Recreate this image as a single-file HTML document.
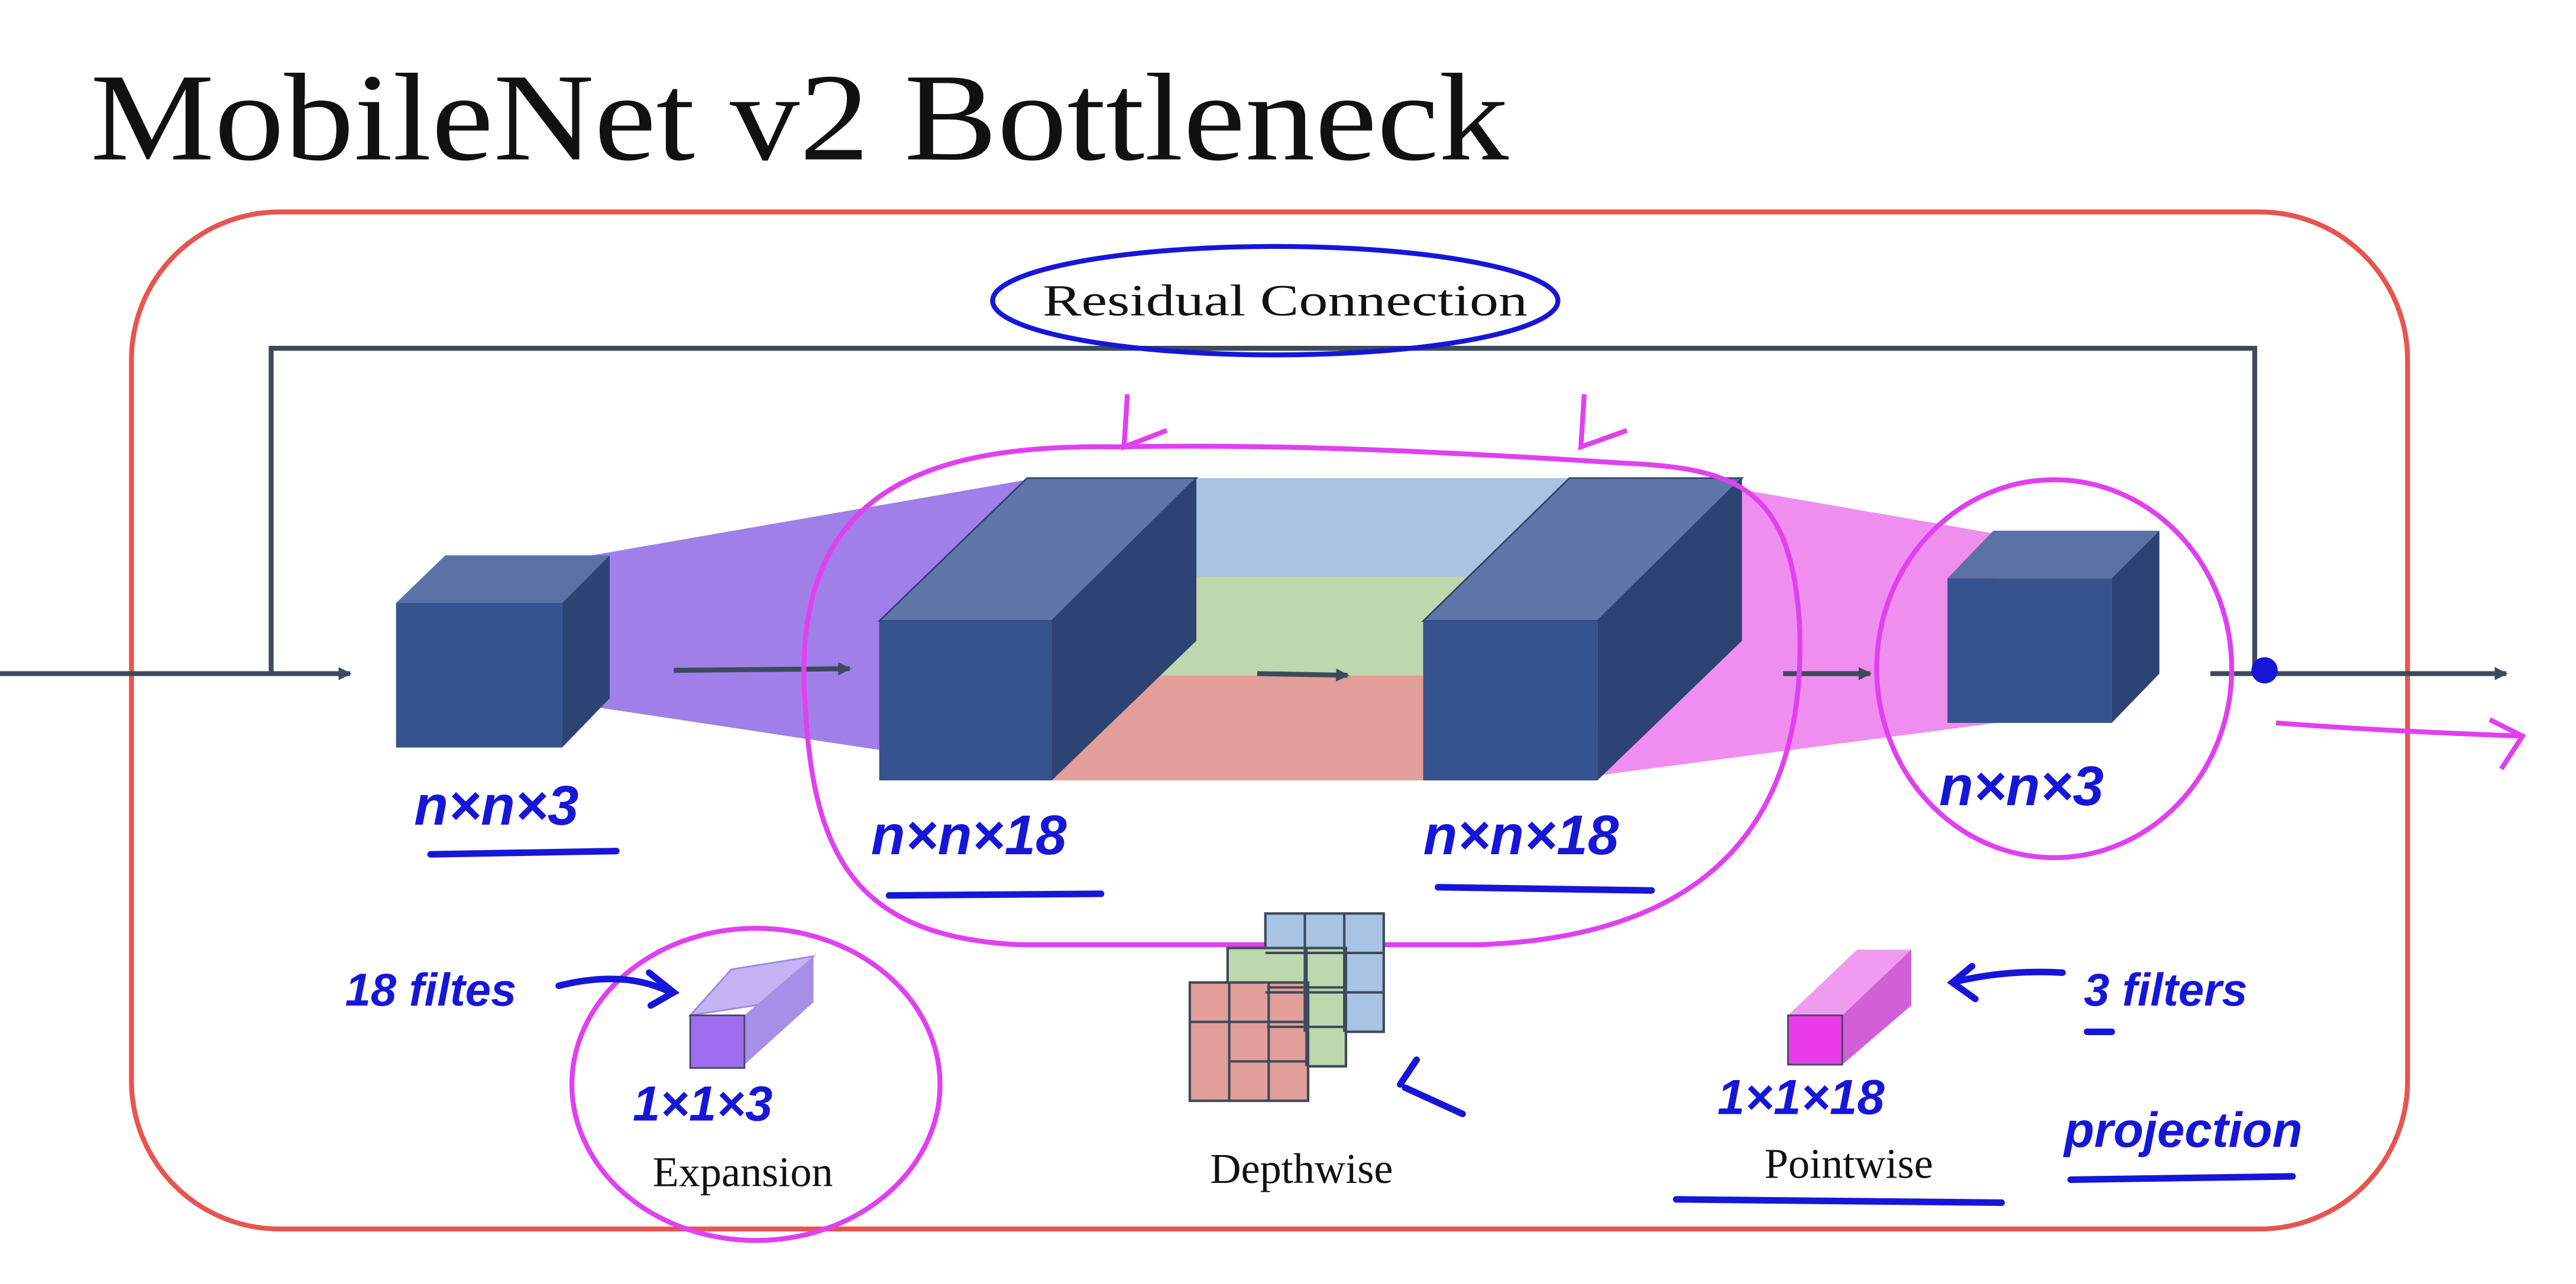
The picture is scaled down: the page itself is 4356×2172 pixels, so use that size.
<!DOCTYPE html>
<html><head><meta charset="utf-8"><style>
html,body{margin:0;padding:0;background:#fff;width:4356px;height:2172px;overflow:hidden}
svg{display:block}
.hw{font-family:"Liberation Sans",sans-serif;fill:#1616d8;font-style:italic}
.sf{font-family:"Liberation Serif",serif;fill:#111}
</style></head><body>
<svg width="4356" height="2172" viewBox="0 0 1567.5 781.5" preserveAspectRatio="none" xmlns="http://www.w3.org/2000/svg">
<defs><marker id="ar" markerWidth="8" markerHeight="8" refX="7" refY="4" orient="auto" markerUnits="userSpaceOnUse"><path d="M0,0 L8,4 L0,8 z" fill="#3d4a5c"/></marker></defs>
<text x="55" y="97" class="sf" font-size="76" textLength="863" lengthAdjust="spacingAndGlyphs">MobileNet v2 Bottleneck</text>
<rect x="80" y="129" width="1385" height="619" rx="90" fill="none" stroke="#e8554e" stroke-width="3"/>
<g stroke="#3d4a5c" stroke-width="3" fill="none">
<line x1="0" y1="410" x2="213" y2="410" marker-end="url(#ar)"/>
<polyline points="165,410 165,212 1372,212 1372,405"/>
<line x1="1345" y1="410" x2="1525" y2="410" marker-end="url(#ar)"/>
</g>
<polygon points="360,338 625,292 625,470 360,430" fill="#a07fe8"/>
<rect x="700" y="291" width="265" height="60" fill="#a8c4e4"/>
<rect x="640" y="351" width="325" height="60" fill="#bcd8ac"/>
<rect x="640" y="411" width="325" height="64" fill="#e29e98"/>
<polygon points="1060,298 1215,325 1215,440 972,472" fill="#f08ef0"/>
<polygon points="241,367 271,338 371,338 342,367" fill="#5a72a6"/>
<polygon points="342,367 371,338 371,425 342,455" fill="#2d4373"/>
<rect x="241" y="367" width="101" height="88" fill="#37538f"/>
<polygon points="535,378 625,291 728,291 640,378" fill="#5f76a8" stroke="#2d4373"/>
<polygon points="640,378 728,291 728,390 640,475" fill="#2d4373"/>
<rect x="535" y="378" width="105" height="97" fill="#37538f"/>
<polygon points="866,378 955,291 1060,291 972,378" fill="#5f76a8" stroke="#2d4373"/>
<polygon points="972,378 1060,291 1060,390 972,475" fill="#2d4373"/>
<rect x="866" y="378" width="106" height="97" fill="#37538f"/>
<polygon points="1185,352 1213,323 1314,323 1285,352" fill="#5a72a6"/>
<polygon points="1285,352 1314,323 1314,410 1285,440" fill="#2d4373"/>
<rect x="1185" y="352" width="100" height="88" fill="#37538f"/>
<g stroke="#3d4a5c" stroke-width="3">
<line x1="410" y1="408" x2="517" y2="407" marker-end="url(#ar)"/>
<line x1="765" y1="410" x2="820" y2="411" marker-end="url(#ar)"/>
<line x1="1085" y1="410" x2="1138" y2="410" marker-end="url(#ar)"/>
</g>
<circle cx="1378" cy="408" r="8" fill="#1616d8"/>
<path d="M1385,440 Q1450,445 1535,448 M1515,438 L1535,448 L1522,468" stroke="#e040f0" stroke-width="3" fill="none"/>
<text x="782" y="192" class="sf" font-size="27" text-anchor="middle" textLength="295" lengthAdjust="spacingAndGlyphs">Residual Connection</text>
<ellipse cx="776" cy="183" rx="172" ry="33" fill="none" stroke="#1616d8" stroke-width="3"/>
<g stroke="#e040f0" stroke-width="3" fill="none">
<path d="M680,272 C560,270 480,300 490,430 C495,520 520,570 620,575 L900,575 C1040,570 1100,500 1095,380 C1090,300 1060,285 990,282 C880,275 780,270 680,272 Z"/>
<ellipse cx="1250" cy="407" rx="108" ry="115"/>
<ellipse cx="460" cy="660" rx="112" ry="95"/>
<path d="M686,240 L684,272 L710,262 M964,240 L962,272 L990,262"/>
</g>
<g class="hw" font-size="34" font-weight="bold">
<text x="252" y="502">n×n×3</text>
<text x="530" y="520">n×n×18</text>
<text x="866" y="520">n×n×18</text>
<text x="1180" y="490">n×n×3</text>
<text x="385" y="682" font-size="30">1×1×3</text>
<text x="1045" y="678" font-size="30">1×1×18</text>
<text x="210" y="612" font-size="28">18 filtes</text>
<text x="1268" y="612" font-size="28">3 filters</text>
<text x="1256" y="698" font-size="30">projection</text>
</g>
<g stroke="#1616d8" stroke-width="4" fill="none" stroke-linecap="round">
<path d="M262,520 L375,518"/><path d="M541,545 L670,544"/><path d="M875,540 L1005,542"/>
<path d="M1020,730 L1218,732"/><path d="M1260,718 L1395,716"/><path d="M1270,628 L1285,628"/>
<path d="M340,600 Q380,590 408,604 M395,592 L410,604 L396,612"/>
<path d="M1255,592 Q1220,590 1188,598 M1200,588 L1188,598 L1202,608"/>
<path d="M855,662 L890,678 M852,660 L862,645"/>
</g>
<polygon points="420,618 445,590 495,582 472,610" fill="#c5b3f3" stroke="#9d86e0"/>
<polygon points="453,618 495,582 495,610 453,648" fill="#a78ee6"/>
<rect x="420" y="618" width="33" height="32" fill="#9d6ef0" stroke="#3d4a5c"/>
<g stroke="#3d4a5c" stroke-width="1.5">
<rect x="770" y="556" width="72" height="72" fill="#a8c4e4"/>
<rect x="747" y="577" width="72" height="72" fill="#bcd8ac"/>
<rect x="724" y="598" width="72" height="72" fill="#e29e98"/>
<path d="M794,556 V628 M818,556 V628 M770,580 H842 M770,604 H842 M771,601 H819 M771,625 H819 M795,577 V649 M748,622 H796 M748,646 H796 M748,598 V670 M772,598 V670 M724,622 H796" fill="none"/>
</g>
<polygon points="1088,618 1130,578 1163,578 1121,618" fill="#ef9cf0"/>
<polygon points="1121,618 1163,578 1163,612 1121,648" fill="#d35fd8"/>
<rect x="1088" y="618" width="33" height="30" fill="#ea3be8" stroke="#3d4a5c"/>
<text x="452" y="722" class="sf" font-size="26" text-anchor="middle">Expansion</text>
<text x="792" y="720" class="sf" font-size="26" text-anchor="middle">Depthwise</text>
<text x="1125" y="717" class="sf" font-size="26" text-anchor="middle">Pointwise</text>
</svg>
</body></html>
